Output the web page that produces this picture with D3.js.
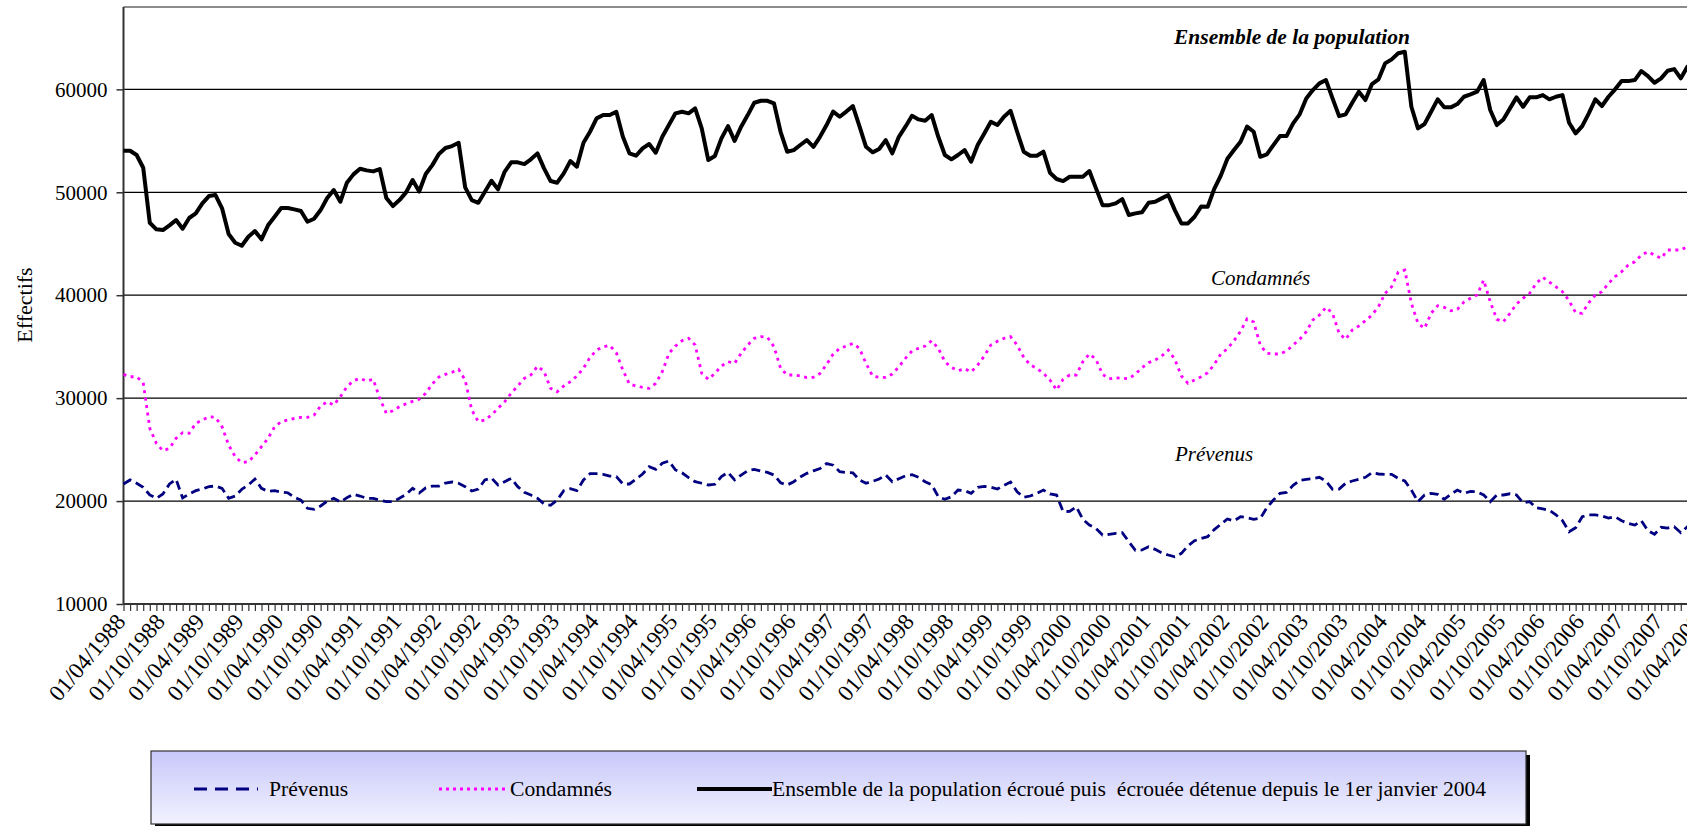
<!DOCTYPE html>
<html><head><meta charset="utf-8">
<script src="https://cdn.jsdelivr.net/npm/d3@7/dist/d3.min.js"></script>
<style>
body{margin:0;background:#fff;overflow:hidden}
svg{display:block}
text{font-family:"Liberation Serif","Times New Roman",serif;fill:#000}
</style>
</head><body>
<svg id="chart" width="1687" height="826"></svg>
<script>
// ---- DATA ----
const firstMonth = new Date(1988, 3, 1);   // 01/04/1988
const lastMonth  = new Date(2008, 3, 1);   // 01/04/2008
const categories = d3.timeMonth.range(firstMonth, d3.timeMonth.offset(lastMonth, 1));

const tickLabels = ["01/04/1988","01/10/1988","01/04/1989","01/10/1989","01/04/1990","01/10/1990",
"01/04/1991","01/10/1991","01/04/1992","01/10/1992","01/04/1993","01/10/1993","01/04/1994","01/10/1994",
"01/04/1995","01/10/1995","01/04/1996","01/10/1996","01/04/1997","01/10/1997","01/04/1998","01/10/1998",
"01/04/1999","01/10/1999","01/04/2000","01/10/2000","01/04/2001","01/10/2001","01/04/2002","01/10/2002",
"01/04/2003","01/10/2003","01/04/2004","01/10/2004","01/04/2005","01/10/2005","01/04/2006","01/10/2006",
"01/04/2007","01/10/2007","01/04/2008"];

const yTicks = [10000, 20000, 30000, 40000, 50000, 60000];

const prevenus = [21660,22050,21730,21340,20590,20270,20690,21660,22120,20300,20700,21010,21170,21400,21460,21240,20270,20490,21140,21560,
22140,21240,20940,21010,20880,20810,20360,20100,19300,19200,19520,19980,20270,19910,20330,20660,20490,20270,20270,20100,
19940,19940,20270,20640,21240,20780,21290,21460,21460,21750,21850,21730,21400,20980,21170,22050,22240,21560,21880,22210,
21400,20850,20590,20270,19710,19590,20100,21010,21200,21010,22050,22660,22660,22600,22430,22370,21660,21660,22140,22630,
23340,23080,23670,23890,23020,22750,22270,21880,21730,21560,21630,22370,22790,22050,22530,22950,23080,22920,22790,22530,
21780,21560,21880,22340,22690,22940,23160,23640,23480,22850,22770,22750,22050,21730,21920,22140,22530,21880,22170,22460,
22560,22310,21880,21590,20420,20170,20420,21070,21010,20750,21340,21430,21340,21170,21530,21850,20910,20370,20490,20750,
21070,20690,20590,18970,19000,19450,18230,17670,17350,16700,16770,16870,16930,16050,15220,15250,15570,15310,14980,14760,
14590,14920,15660,16150,16360,16540,17230,17750,18260,18070,18480,18380,18230,18320,19350,20100,20750,20850,21530,22010,
22110,22170,22310,21950,21140,21170,21730,21950,22110,22310,22750,22630,22600,22600,22210,21950,21070,19940,20590,20750,
20660,20170,20660,21070,20750,20940,20910,20590,19940,20590,20590,20710,20590,19840,19940,19350,19230,19100,18670,18090,
17020,17410,18480,18650,18650,18550,18350,18480,18090,17840,17670,18090,17120,16770,17450,17380,17510,16930,17510,17300,
17600];

const condamnes = [32310,32080,32080,31500,27070,25610,24890,25120,26100,26640,26580,27550,27870,28190,28130,27220,25450,24310,23730,23820,
24470,25280,26100,27220,27710,27870,28040,28130,28130,28360,29230,29650,29330,30140,31110,31690,31920,31660,31830,29980,
28520,28780,29170,29450,29690,29900,30470,31380,32050,32310,32510,32800,31760,28850,27710,27870,28360,29010,29650,30470,
31180,31920,32250,33100,32600,30950,30620,31180,31600,32150,32900,33960,34670,34990,35130,34410,32730,31370,31180,31050,
30950,31440,32570,34350,35060,35580,35810,35160,32410,31830,32410,33120,33540,33380,34350,35160,35810,35970,35910,34990,
32900,32250,32250,32150,32000,32030,32390,33270,34270,34840,35060,35320,34840,33380,32150,32020,32020,32340,33050,33870,
34580,34840,35060,35580,34840,33540,32990,32660,32860,32540,33220,34090,35160,35520,35810,35970,35160,33960,33220,32900,
32410,31760,30790,31830,32250,32250,33540,34290,33770,32310,31860,31980,31920,31890,32340,32950,33440,33700,34090,34670,
33770,32150,31440,31760,32080,32470,33270,34290,34800,35570,36500,37700,37400,35160,34350,34290,34290,34580,35160,35710,
36450,37590,38070,38820,38240,36300,35710,36620,37010,37520,38070,38880,40180,40820,42250,42440,39210,37270,36780,38240,
38980,38820,38490,38630,39340,39700,40020,41470,39370,37660,37420,38240,39140,39700,40180,41150,41740,41280,40820,40340,
39460,38300,38240,39270,40020,40340,41150,41800,42280,42930,43250,43900,44220,43900,43580,44390,44390,44390,44710,44600,
44900];

const ensemble = [54030,54030,53620,52380,47040,46400,46330,46790,47300,46460,47500,47950,48920,49630,49730,48440,45940,45100,44810,45680,
46230,45430,46790,47620,48470,48470,48340,48180,47140,47430,48270,49440,50220,49080,50930,51740,52290,52130,52030,52260,
49440,48660,49240,49990,51190,50070,51770,52640,53710,54300,54490,54810,50480,49240,48980,50050,51120,50280,51990,52910,
52910,52740,53200,53780,52320,51090,50930,51840,53030,52480,54810,55880,57180,57500,57500,57820,55390,53780,53550,54270,
54690,53840,55390,56530,57670,57820,57670,58150,56210,53130,53520,55240,56430,54980,56370,57500,58700,58890,58890,58640,
55880,53940,54100,54590,55070,54420,55390,56530,57840,57340,57840,58370,56430,54420,53880,54200,55070,53780,55390,56370,
57430,57080,56950,57500,55390,53620,53200,53620,54100,52970,54590,55720,56850,56530,57340,57920,55880,53940,53550,53550,
53940,51900,51290,51090,51510,51510,51510,52060,50380,48750,48750,48920,49340,47790,47950,48050,48980,49080,49410,49730,
48270,46970,46970,47620,48610,48590,50330,51630,53250,54100,54910,56380,55880,53450,53680,54590,55460,55460,56700,57570,
59120,59930,60580,60900,59120,57400,57570,58700,59770,58960,60510,60970,62520,62910,63500,63650,58310,56210,56630,57820,
59030,58250,58250,58570,59280,59510,59770,60900,57990,56530,57080,58150,59220,58310,59220,59220,59440,59030,59280,59440,
56760,55720,56430,57670,59030,58380,59280,60000,60800,60800,60900,61780,61290,60640,61070,61810,61970,61070,62190,62000,
62300];

const seriesNames = ["Prévenus", "Condamnés",
  "Ensemble de la population écroué puis  écrouée détenue depuis le 1er janvier 2004"];

// ---- LAYOUT ----
const svg = d3.select("#chart");
const plot = {left: 123.5, top: 7, bottom: 604, right: 1700.5};
const x = d3.scalePoint().domain(categories.map(d => +d)).range([plot.left, plot.right]);
const y = d3.scaleLinear().domain([10000, 68000]).range([plot.bottom, plot.top]);

// gridlines
svg.append("g").selectAll("line").data(yTicks.filter(v => v > 10000)).join("line")
  .attr("x1", plot.left).attr("x2", 1687).attr("y1", d => y(d)).attr("y2", d => y(d))
  .attr("stroke", "#000").attr("stroke-width", 1.2);
// top border
svg.append("line").attr("x1", plot.left).attr("x2", 1687).attr("y1", plot.top).attr("y2", plot.top)
  .attr("stroke", "#8c8c8c").attr("stroke-width", 2);

// y axis
const yAxis = svg.append("g").attr("transform", `translate(${plot.left},0)`)
  .call(d3.axisLeft(y).tickValues(yTicks).tickSize(7).tickPadding(9).tickFormat(d3.format("d")));
yAxis.attr("font-family", null).attr("font-size", null);
yAxis.select(".domain").attr("stroke", "#333").attr("stroke-width", 2).attr("d", `M0,${plot.top}V${plot.bottom}`);
yAxis.selectAll(".tick line").attr("stroke", "#333").attr("stroke-width", 1.5);
yAxis.selectAll(".tick text").style("font-family", '"Liberation Serif",serif').style("font-size", "21px").attr("fill", "#000");

// x axis (monthly ticks)
const xAxis = svg.append("g").attr("transform", `translate(0,${plot.bottom})`)
  .call(d3.axisBottom(x).tickSize(7).tickFormat(""));
xAxis.select(".domain").attr("stroke", "#333").attr("stroke-width", 2).attr("d", `M${plot.left},0H1700`);
xAxis.selectAll(".tick line").attr("stroke", "#333").attr("stroke-width", 1.2);

// x labels
const labelCats = tickLabels.map((t, i) => categories[i * 6]);
svg.append("g").selectAll("text").data(tickLabels).join("text")
  .attr("transform", (d, i) => `translate(${x(+labelCats[i]) - 3},617) rotate(-50)`)
  .attr("text-anchor", "end").attr("dy", "0.35em")
  .style("font-size", "23px").text(d => d);

// y title
svg.append("text").attr("transform", "translate(31.5,305) rotate(-90)")
  .attr("text-anchor", "middle").style("font-size", "22px").text("Effectifs");

// lines
const line = d3.line().x((d, i) => x(+categories[i])).y(d => y(d));
svg.append("path").datum(condamnes).attr("d", line).attr("fill", "none")
  .attr("stroke", "#ff00ff").attr("stroke-width", 2.8).attr("stroke-dasharray", "3,4.5");
svg.append("path").datum(prevenus).attr("d", line).attr("fill", "none")
  .attr("stroke", "#000080").attr("stroke-width", 2.8).attr("stroke-dasharray", "9,5");
svg.append("path").datum(ensemble).attr("d", line).attr("fill", "none")
  .attr("stroke", "#000").attr("stroke-width", 4).attr("stroke-linejoin", "round");

// annotations
svg.append("text").attr("x", 1174).attr("y", 44).style("font-size", "21.5px")
  .style("font-weight", "bold").style("font-style", "italic").text("Ensemble de la population");
svg.append("text").attr("x", 1211).attr("y", 285).style("font-size", "21px")
  .style("font-style", "italic").text("Condamnés");
svg.append("text").attr("x", 1175).attr("y", 461).style("font-size", "21px")
  .style("font-style", "italic").text("Prévenus");

// legend
const defs = svg.append("defs");
const grad = defs.append("linearGradient").attr("id", "lg").attr("x1", 0).attr("y1", 0).attr("x2", 0).attr("y2", 1);
grad.append("stop").attr("offset", "0%").attr("stop-color", "#c8c8fa");
grad.append("stop").attr("offset", "100%").attr("stop-color", "#f2f2ff");
const lg = svg.append("g");
lg.append("rect").attr("x", 155).attr("y", 755).attr("width", 1375).attr("height", 73).attr("fill", "#000");
lg.append("rect").attr("x", 151).attr("y", 751).attr("width", 1375).attr("height", 73)
  .attr("fill", "url(#lg)").attr("stroke", "#333").attr("stroke-width", 1.2);
const legendItems = [
  {x1: 194, x2: 258, tx: 269, color: "#000080", w: 2.8, dash: "13,8"},
  {x1: 439, x2: 506, tx: 510, color: "#ff00ff", w: 2.8, dash: "3,4"},
  {x1: 697, x2: 772, tx: 772, color: "#000", w: 4, dash: null}
];
legendItems.forEach((it, i) => {
  lg.append("line").attr("x1", it.x1).attr("x2", it.x2).attr("y1", 789).attr("y2", 789)
    .attr("stroke", it.color).attr("stroke-width", it.w).attr("stroke-dasharray", it.dash);
  lg.append("text").attr("x", it.tx).attr("y", 796).style("font-size", "21.6px")
    .style("white-space", "pre").text(seriesNames[i]);
});
</script>
</body></html>
